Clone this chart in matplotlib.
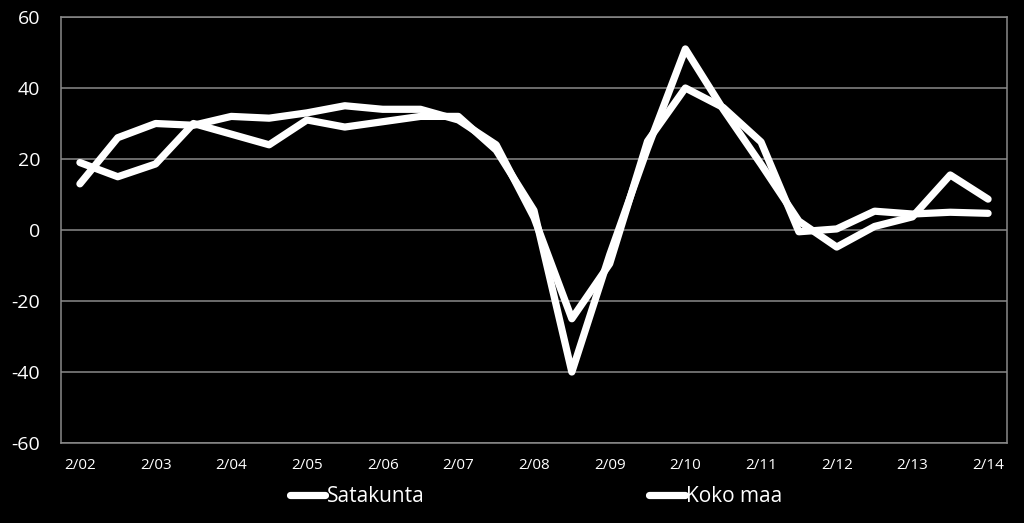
import matplotlib
matplotlib.use("Agg")
import matplotlib.pyplot as plt
import numpy as np

plt.rcParams['font.family'] = ['Open Sans', 'DejaVu Sans']

years = ["02", "03", "04", "05", "06", "07", "08", "09", "10", "11", "12", "13", "14"]
periods = []
for y in years:
    periods.append("2/" + y)
    if y != "14":
        periods.append("8/" + y)

satakunta = [19, 15, 18.6, 30, 27, 24, 31, 29, 30.5, 32, 32, 22.5, 5.5, -40, -7,
             23, 51, 34, 18.5, 2.5, -4.8, 1, 3.7, 15.5, 8.7]
koko_maa = [13, 26, 30, 29.5, 32, 31.5, 33, 35, 34, 34, 31, 24, 3.5, -25, -9.5,
            25, 40, 34.5, 24.8, -0.5, 0.3, 5.3, 4.5, 5, 4.7]

y_ticks = [-60, -40, -20, 0, 20, 40, 60]

fig = plt.figure(figsize=(10.24, 5.23), dpi=100, facecolor="black")
ax = fig.add_axes([61/1024, 1-443/523, (1007-61)/1024, (443-17)/523])
ax.set_facecolor("black")

x = np.arange(len(periods))
grid_c = "#8a8a8a"
for yt in y_ticks:
    ax.axhline(yt, color=grid_c, lw=1.1, zorder=1)

ax.plot(x, satakunta, color="white", lw=5.2, solid_joinstyle="round",
        solid_capstyle="round", label="Satakunta", zorder=3)
ax.plot(x, koko_maa, color="white", lw=5.2, solid_joinstyle="round",
        solid_capstyle="round", label="Koko maa", zorder=3)

ax.set_xlim(-0.5, len(periods) - 0.5)
ax.set_ylim(-60, 60)
ax.set_yticks(y_ticks)
ax.set_yticklabels([str(v) for v in y_ticks], fontsize=14, color="white")
ax.set_xticks(x[::2])
ax.set_xticklabels(periods[::2], fontsize=11, color="white")
ax.tick_params(axis="both", length=0)
ax.tick_params(axis="y", pad=15)
ax.tick_params(axis="x", pad=11)

for s in ["left", "right", "bottom", "top"]:
    ax.spines[s].set_color(grid_c)
    ax.spines[s].set_linewidth(1.1)

leg = fig.legend(loc="center", bbox_to_anchor=(536/1024, 1-497/523), ncol=2,
                 frameon=False, fontsize=15, handlelength=1.7, handletextpad=0.05,
                 columnspacing=10.8, labelcolor="white")

fig.savefig("out.png", dpi=100, facecolor="black")
